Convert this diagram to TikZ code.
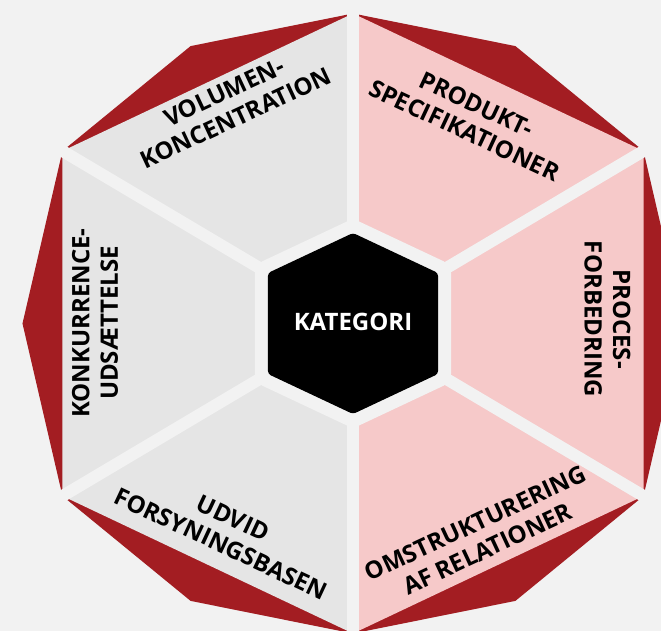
\documentclass[tikz,border=0pt]{standalone}
\usepackage{fontspec}
\setmainfont{Open Sans}
\usetikzlibrary{calc}

\definecolor{backgr}{HTML}{F2F2F2}
\definecolor{darkred}{HTML}{A31D22}
\definecolor{seggrey}{HTML}{E5E5E5}
\definecolor{segpink}{HTML}{F6C9C9}

\tikzset{
	seglabel/.style = {font = \bfseries\fontsize{24}{28.5}\selectfont, align = center, inner sep = 0pt},
	gap/.style = {backgr, line width = 12pt},
}

\begin{document}
\begin{tikzpicture}[x = 1pt, y = 1pt]
		\fill [backgr] (-353, -307.5) rectangle (308, 323.5) ;
		\useasboundingbox (-353, -307.5) rectangle (308, 323.5) ;
		\coordinate (c) at (0, 0) ;
		% outer hexagon and the red points
		\coordinate (o1) at (0, 310) ;
		\coordinate (o2) at (-290.5, 172.5) ;
		\coordinate (o3) at (-290.5, -172.5) ;
		\coordinate (o4) at (0, -310) ;
		\coordinate (o5) at (290.5, -172.5) ;
		\coordinate (o6) at (290.5, 172.5) ;
		\coordinate (r1) at (-162.4, 277.4) ;
		\coordinate (r2) at (-330.5, 0) ;
		\coordinate (r3) at (-162.4, -277.4) ;
		\coordinate (r4) at (162.4, -277.4) ;
		\coordinate (r5) at (330.5, 0) ;
		\coordinate (r6) at (162.4, 277.4) ;
		\fill [darkred] (o1) -- (r1) -- (o2) -- (r2) -- (o3) -- (r3)
			-- (o4) -- (r4) -- (o5) -- (r5) -- (o6) -- (r6) -- cycle ;
		\fill [seggrey] (c) -- (o1) -- (o2) -- (o3) -- (o4) -- cycle ;
		\fill [segpink] (c) -- (o4) -- (o5) -- (o6) -- (o1) -- cycle ;
		\foreach \o in {o1, o2, o3, o4, o5, o6}
			\draw [gap] (c) -- ($(c)!1.3!(\o)$) ;
		% centre hexagon
		\coordinate (i1) at (0, 90.5) ;
		\coordinate (i2) at (-85, 50.5) ;
		\coordinate (i3) at (-85, -50.5) ;
		\coordinate (i4) at (0, -90.5) ;
		\coordinate (i5) at (85, -50.5) ;
		\coordinate (i6) at (85, 50.5) ;
		\draw [backgr, line width = 26pt, line join = round]
			(i1) -- (i2) -- (i3) -- (i4) -- (i5) -- (i6) -- cycle ;
		\fill [black, rounded corners = 3pt]
			(i1) -- (i2) -- (i3) -- (i4) -- (i5) -- (i6) -- cycle ;
		\node [seglabel, white] (kategori) at (0, 1.5) {KATEGORI} ;
		\node [seglabel, rotate = 25] (volumen) at (-123, 218.5) {VOLUMEN-\\KONCENTRATION} ;
		\node [seglabel, rotate = -25] (produkt) at (117.5, 206) {PRODUKT-\\SPECIFIKATIONER} ;
		\node [seglabel, rotate = -90] (proces) at (254.5, 4.5) {PROCES-\\FORBEDRING} ;
		\node [seglabel, rotate = 25] (omstrukturering) at (128.5, -212.5) {OMSTRUKTURERING\\AF RELATIONER} ;
		\node [seglabel, rotate = -25] (udvid) at (-126, -207.5) {UDVID\\FORSYNINGSBASEN} ;
		\node [seglabel, rotate = 90] (konkurrence) at (-258, 0.5) {KONKURRENCE-\\UDSÆTTELSE} ;
	\end{tikzpicture}
\end{document}
